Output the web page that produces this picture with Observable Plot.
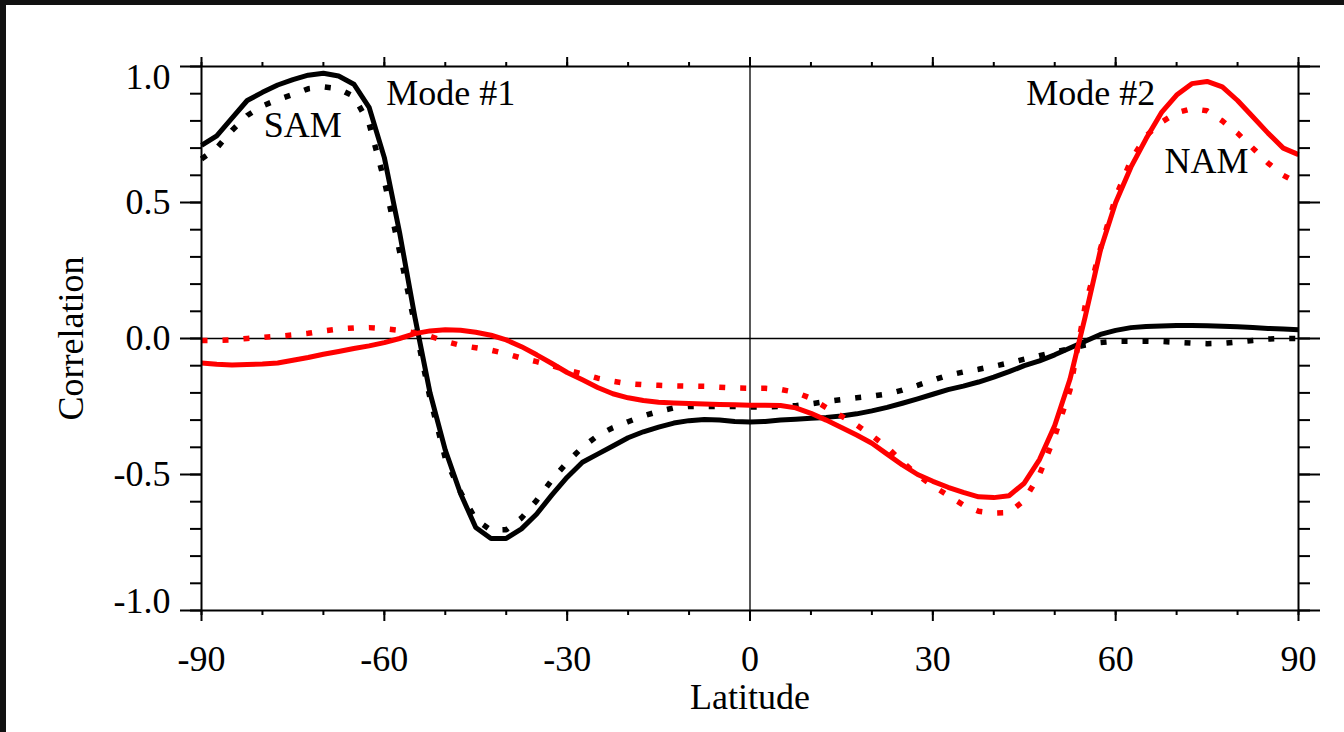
<!DOCTYPE html>
<html>
<head>
<meta charset="utf-8">
<script src="https://cdn.jsdelivr.net/npm/d3@7"></script>
<script src="https://cdn.jsdelivr.net/npm/@observablehq/plot@0.6"></script>
<style>
  html, body { margin: 0; padding: 0; background: #fff; width: 1344px; height: 732px; overflow: hidden; }
  #chart { position: absolute; left: 0; top: 0; }
  .edgeTop { position: absolute; left: 0; top: 0; width: 1344px; height: 5px; background: #111; }
  .edgeLeft { position: absolute; left: 0; top: 0; width: 6px; height: 732px; background: #111; }
</style>
</head>
<body>
<div id="chart"></div>
<div class="edgeTop"></div>
<div class="edgeLeft"></div>
<script>
// Latitude grid (degrees), every 2.5
const lats = d3.range(-90, 90.001, 2.5);

// Mode #1 (SAM) correlations
const samSolid = [
  0.71, 0.745, 0.81, 0.875, 0.905, 0.932, 0.952, 0.968, 0.975, 0.965,
  0.935, 0.85, 0.665, 0.39, 0.08, -0.20, -0.41, -0.57, -0.695, -0.735,
  -0.735, -0.70, -0.645, -0.575, -0.51, -0.455, -0.425, -0.395, -0.365, -0.343,
  -0.326, -0.311, -0.302, -0.298, -0.30, -0.305, -0.307, -0.305, -0.30, -0.297,
  -0.293, -0.29, -0.285, -0.277, -0.266, -0.253, -0.238, -0.222, -0.205, -0.188,
  -0.175, -0.16, -0.142, -0.122, -0.10, -0.082, -0.06, -0.035, -0.01, 0.015,
  0.03, 0.04, 0.044, 0.046, 0.048, 0.048, 0.047, 0.045, 0.043, 0.04,
  0.037, 0.035, 0.032
];
const samDotted = [
  0.66, 0.70, 0.765, 0.82, 0.855, 0.878, 0.897, 0.918, 0.925, 0.918,
  0.89, 0.79, 0.58, 0.32, 0.05, -0.22, -0.44, -0.565, -0.665, -0.705,
  -0.703, -0.66, -0.595, -0.52, -0.455, -0.40, -0.357, -0.328, -0.306, -0.285,
  -0.268, -0.255, -0.25, -0.25, -0.25, -0.25, -0.252, -0.252, -0.25, -0.247,
  -0.24, -0.232, -0.225, -0.218, -0.212, -0.204, -0.19, -0.172, -0.153, -0.135,
  -0.123, -0.113, -0.102, -0.09, -0.076, -0.063, -0.05, -0.037, -0.024, -0.015,
  -0.01, -0.01, -0.01, -0.011, -0.014, -0.017, -0.019, -0.018, -0.013, -0.007,
  -0.002, 0, 0
];
// Mode #2 (NAM) correlations
const namSolid = [
  -0.09, -0.095, -0.097, -0.096, -0.094, -0.09, -0.08, -0.07, -0.058, -0.048,
  -0.037, -0.027, -0.015, 0.0, 0.018, 0.028, 0.032, 0.03, 0.023, 0.012,
  -0.005, -0.03, -0.06, -0.092, -0.125, -0.152, -0.18, -0.203, -0.218, -0.228,
  -0.234, -0.237, -0.239, -0.241, -0.243, -0.244, -0.245, -0.245, -0.246, -0.255,
  -0.275, -0.30, -0.327, -0.355, -0.385, -0.425, -0.465, -0.50, -0.525, -0.547,
  -0.566, -0.582, -0.585, -0.578, -0.532, -0.445, -0.32, -0.15, 0.08, 0.325,
  0.50, 0.63, 0.735, 0.83, 0.895, 0.937, 0.945, 0.925, 0.875, 0.815,
  0.755, 0.70, 0.676
];
const namDotted = [
  -0.007, -0.007, -0.005, 0, 0.004, 0.008, 0.013, 0.019, 0.028, 0.035,
  0.039, 0.04, 0.036, 0.03, 0.02, 0.008, -0.01, -0.025, -0.034, -0.043,
  -0.056, -0.072, -0.085, -0.10, -0.116, -0.13, -0.146, -0.157, -0.166, -0.17,
  -0.172, -0.174, -0.175, -0.176, -0.179, -0.182, -0.183, -0.183, -0.187, -0.198,
  -0.22, -0.254, -0.285, -0.318, -0.357, -0.40, -0.454, -0.502, -0.542, -0.577,
  -0.612, -0.635, -0.642, -0.64, -0.595, -0.50, -0.36, -0.19, 0.12, 0.33,
  0.52, 0.655, 0.745, 0.795, 0.83, 0.845, 0.837, 0.80, 0.755, 0.70,
  0.645, 0.60, 0.57
];

// Ticks and labels
const xMajor = [-90, -60, -30, 0, 30, 60, 90];
const xTickLabels = ["-90", "-60", "-30", "0", "30", "60", "90"];
const xMinor = d3.range(-90, 90.001, 10);
const yMajor = [-1, -0.5, 0, 0.5, 1];
const yTickLabels = ["-1.0", "-0.5", "0.0", "0.5", "1.0"];
const yMinor = d3.range(-10, 10.001, 1).map(v => v / 10);

// Annotations
const notes = ["Mode #1", "SAM", "Mode #2", "NAM"];
const noteLat = [-49.1, -73.4, 55.9, 74.9];
const noteVal = [0.857, 0.739, 0.86, 0.61];

const toRows = vals => lats.map((lat, i) => ({lat, v: vals[i]}));

const font = "'Liberation Serif', 'Times New Roman', serif";
const fs = 36;
const blank = () => "";

const yLab = yMajor.map((v, i) => ({v, t: yTickLabels[i]}));
const yMid = yLab.filter(d => Math.abs(d.v) < 1);
const yTop = yLab.filter(d => d.v === 1);
const yBot = yLab.filter(d => d.v === -1);

const solidStyle = {strokeWidth: 5, strokeLinejoin: "round", strokeLinecap: "butt"};
const dotStyle = {strokeWidth: 5.5, strokeDasharray: "6,15", strokeLinecap: "butt", strokeLinejoin: "miter"};

const chart = Plot.plot({
  width: 1344,
  height: 732,
  marginLeft: 201,
  marginRight: 46,
  marginTop: 66,
  marginBottom: 122,
  style: {fontFamily: font, background: "transparent", overflow: "visible"},
  x: {domain: [-90, 90]},
  y: {domain: [-1, 1]},
  marks: [
    Plot.ruleY([0], {stroke: "black", strokeWidth: 1.3}),
    Plot.ruleX([0], {stroke: "black", strokeWidth: 1.3}),
    Plot.line(toRows(samSolid), {x: "lat", y: "v", stroke: "black", ...solidStyle}),
    Plot.line(toRows(samDotted), {x: "lat", y: "v", stroke: "black", ...dotStyle}),
    Plot.line(toRows(namSolid), {x: "lat", y: "v", stroke: "#ff0000", ...solidStyle}),
    Plot.line(toRows(namDotted), {x: "lat", y: "v", stroke: "#ff0000", ...dotStyle}),
    Plot.frame({stroke: "black", strokeWidth: 2}),
    // left axis
    Plot.axisY({anchor: "left", ticks: yMajor, tickSize: 21, tickFormat: blank, label: null, strokeWidth: 2}),
    Plot.axisY({anchor: "left", ticks: yMinor, tickSize: 11, tickFormat: blank, label: null, strokeWidth: 2}),
    // right axis
    Plot.axisY({anchor: "right", ticks: yMajor, tickSize: 21, tickFormat: blank, label: null, strokeWidth: 2}),
    Plot.axisY({anchor: "right", ticks: yMinor, tickSize: 11, tickFormat: blank, label: null, strokeWidth: 2}),
    // bottom axis
    Plot.axisX({anchor: "bottom", ticks: xMajor, tickSize: 11, tickFormat: blank, label: null, strokeWidth: 2}),
    Plot.axisX({anchor: "bottom", ticks: xMinor, tickSize: 5, tickFormat: blank, label: null, strokeWidth: 2}),
    // top axis
    Plot.axisX({anchor: "top", ticks: xMajor, tickSize: 10, tickFormat: blank, label: null, strokeWidth: 2}),
    Plot.axisX({anchor: "top", ticks: xMinor, tickSize: 5, tickFormat: blank, label: null, strokeWidth: 2}),
    // tick labels
    Plot.text(xMajor, {x: d => d, text: (d, i) => xTickLabels[i], frameAnchor: "bottom", lineAnchor: "bottom", dy: 60, fontSize: fs, fill: "black"}),
    Plot.text(yMid, {y: "v", text: "t", frameAnchor: "left", textAnchor: "end", dx: -31, fontSize: fs, fill: "black"}),
    Plot.text(yTop, {y: "v", text: "t", frameAnchor: "left", textAnchor: "end", dx: -31, dy: 11, fontSize: fs, fill: "black"}),
    Plot.text(yBot, {y: "v", text: "t", frameAnchor: "left", textAnchor: "end", dx: -31, dy: -9, fontSize: fs, fill: "black"}),
    // axis titles
    Plot.text(["Latitude"], {frameAnchor: "bottom", lineAnchor: "bottom", dy: 98, fontSize: fs, fill: "black"}),
    Plot.text(["Correlation"], {frameAnchor: "left", textAnchor: "middle", lineAnchor: "bottom", rotate: -90, dx: -119, fontSize: fs, fill: "black"}),
    // annotations
    Plot.text(notes, {x: (d, i) => noteLat[i], y: (d, i) => noteVal[i], text: d => d, lineAnchor: "bottom", fontSize: fs, fill: "black"})
  ]
});
document.getElementById("chart").appendChild(chart);
</script>
</body>
</html>
